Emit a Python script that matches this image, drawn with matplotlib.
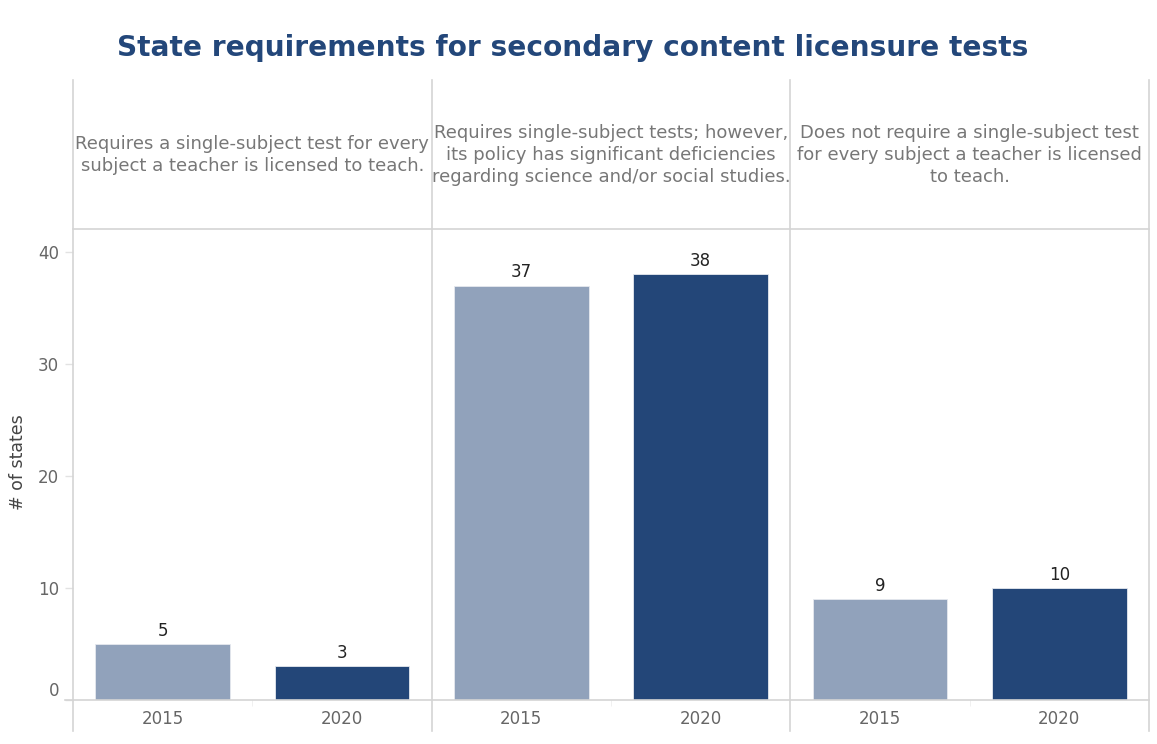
import numpy as np
import matplotlib.pyplot as plt
from matplotlib.transforms import ScaledTranslation

plt.rcParams['font.family'] = ['DejaVu Sans']

# policy groups and the count of states in each, by year
groups = [
    "Requires a single-subject test for every\nsubject a teacher is licensed to teach.",
    "Requires single-subject tests; however,\nits policy has significant deficiencies\nregarding science and/or social studies.",
    "Does not require a single-subject test\nfor every subject a teacher is licensed\nto teach.",
]
years = ["2015", "2020"]
states_2015 = [5, 37, 9]
states_2020 = [3, 38, 10]

colors = {"2015": "#91a2bb", "2020": "#234678"}
title_color = "#23477a"
rule_color = "#d4d4d4"

W, H = 1157, 744
fig = plt.figure(figsize=(W / 100, H / 100), dpi=100, facecolor="white")
# plot area in pixels: left, top, right, bottom
left, top, right, bottom = 73, 229, 1149, 700
ax = fig.add_axes([left / W, 1 - bottom / H, (right - left) / W, (bottom - top) / H])

n_years = len(years)
xpos, heights, cols, labels = [], [], [], []
for g in range(len(groups)):
    for k, year in enumerate(years):
        xpos.append(g * n_years + k)
        heights.append((states_2015, states_2020)[k][g])
        cols.append(colors[year])
        labels.append(year)

bars = ax.bar(xpos, heights, width=0.75, color=cols, edgecolor="#e6e9ef", linewidth=0.6, zorder=2)
for b, v in zip(bars, heights):
    ax.annotate(str(v), (b.get_x() + b.get_width() / 2, v), xytext=(0, 3),
                textcoords="offset points", ha="center", va="bottom",
                fontsize=12, color="#222222")

ax.set_xlim(-0.5, len(xpos) - 0.5)
ax.set_ylim(0, 42.05)

# frame: top rule under the headers, bottom axis, panel separators running through the headers
for side in ["left", "right"]:
    ax.spines[side].set_visible(False)
for side in ["top", "bottom"]:
    ax.spines[side].set_color(rule_color)
    ax.spines[side].set_linewidth(1.2)

span = bottom - top
y_hi = (bottom - 80) / span
y_lo = (bottom - 731) / span
for xs in np.arange(-0.5, len(xpos), n_years):
    ax.axvline(xs, ymin=y_lo, ymax=y_hi, color=rule_color, lw=1.2, clip_on=False, zorder=3)
ax.plot([-0.5 - 8 / 179.3, -0.5], [0, 0], color=rule_color, lw=1.2, clip_on=False)

# panel headers
for g, text in enumerate(groups):
    ax.text(g * n_years + (n_years - 1) / 2, (bottom - 155) / span, text,
            transform=ax.get_xaxis_transform(), ha="center", va="center",
            fontsize=13, color="#777777", linespacing=1.32)

ax.set_xticks(xpos)
ax.set_xticklabels(labels)
ax.set_xticks(np.arange(0.5, len(xpos), n_years), minor=True)
ax.tick_params(axis="x", which="major", length=0, pad=7, labelsize=12, labelcolor="#666666")
ax.tick_params(axis="x", which="minor", length=4, color="#eeeeee")

ax.set_yticks([0, 10, 20, 30, 40])
ax.tick_params(axis="y", length=6, width=1, color="#e2e2e2", pad=4, labelsize=12, labelcolor="#666666")
# lift the zero label off the axis line
zero_label = ax.get_yticklabels()[0]
zero_label.set_transform(zero_label.get_transform() + ScaledTranslation(0, 11 / 100, fig.dpi_scale_trans))

fig.text(18 / W, 1 - 462 / H, "# of states", rotation=90, ha="center", va="center",
         fontsize=12.5, color="#444444")
fig.text(573 / W, 1 - 48 / H, "State requirements for secondary content licensure tests",
         ha="center", va="center", fontsize=20.2, fontweight="bold", color=title_color)

fig.savefig("out.png", dpi=100, facecolor="white")
